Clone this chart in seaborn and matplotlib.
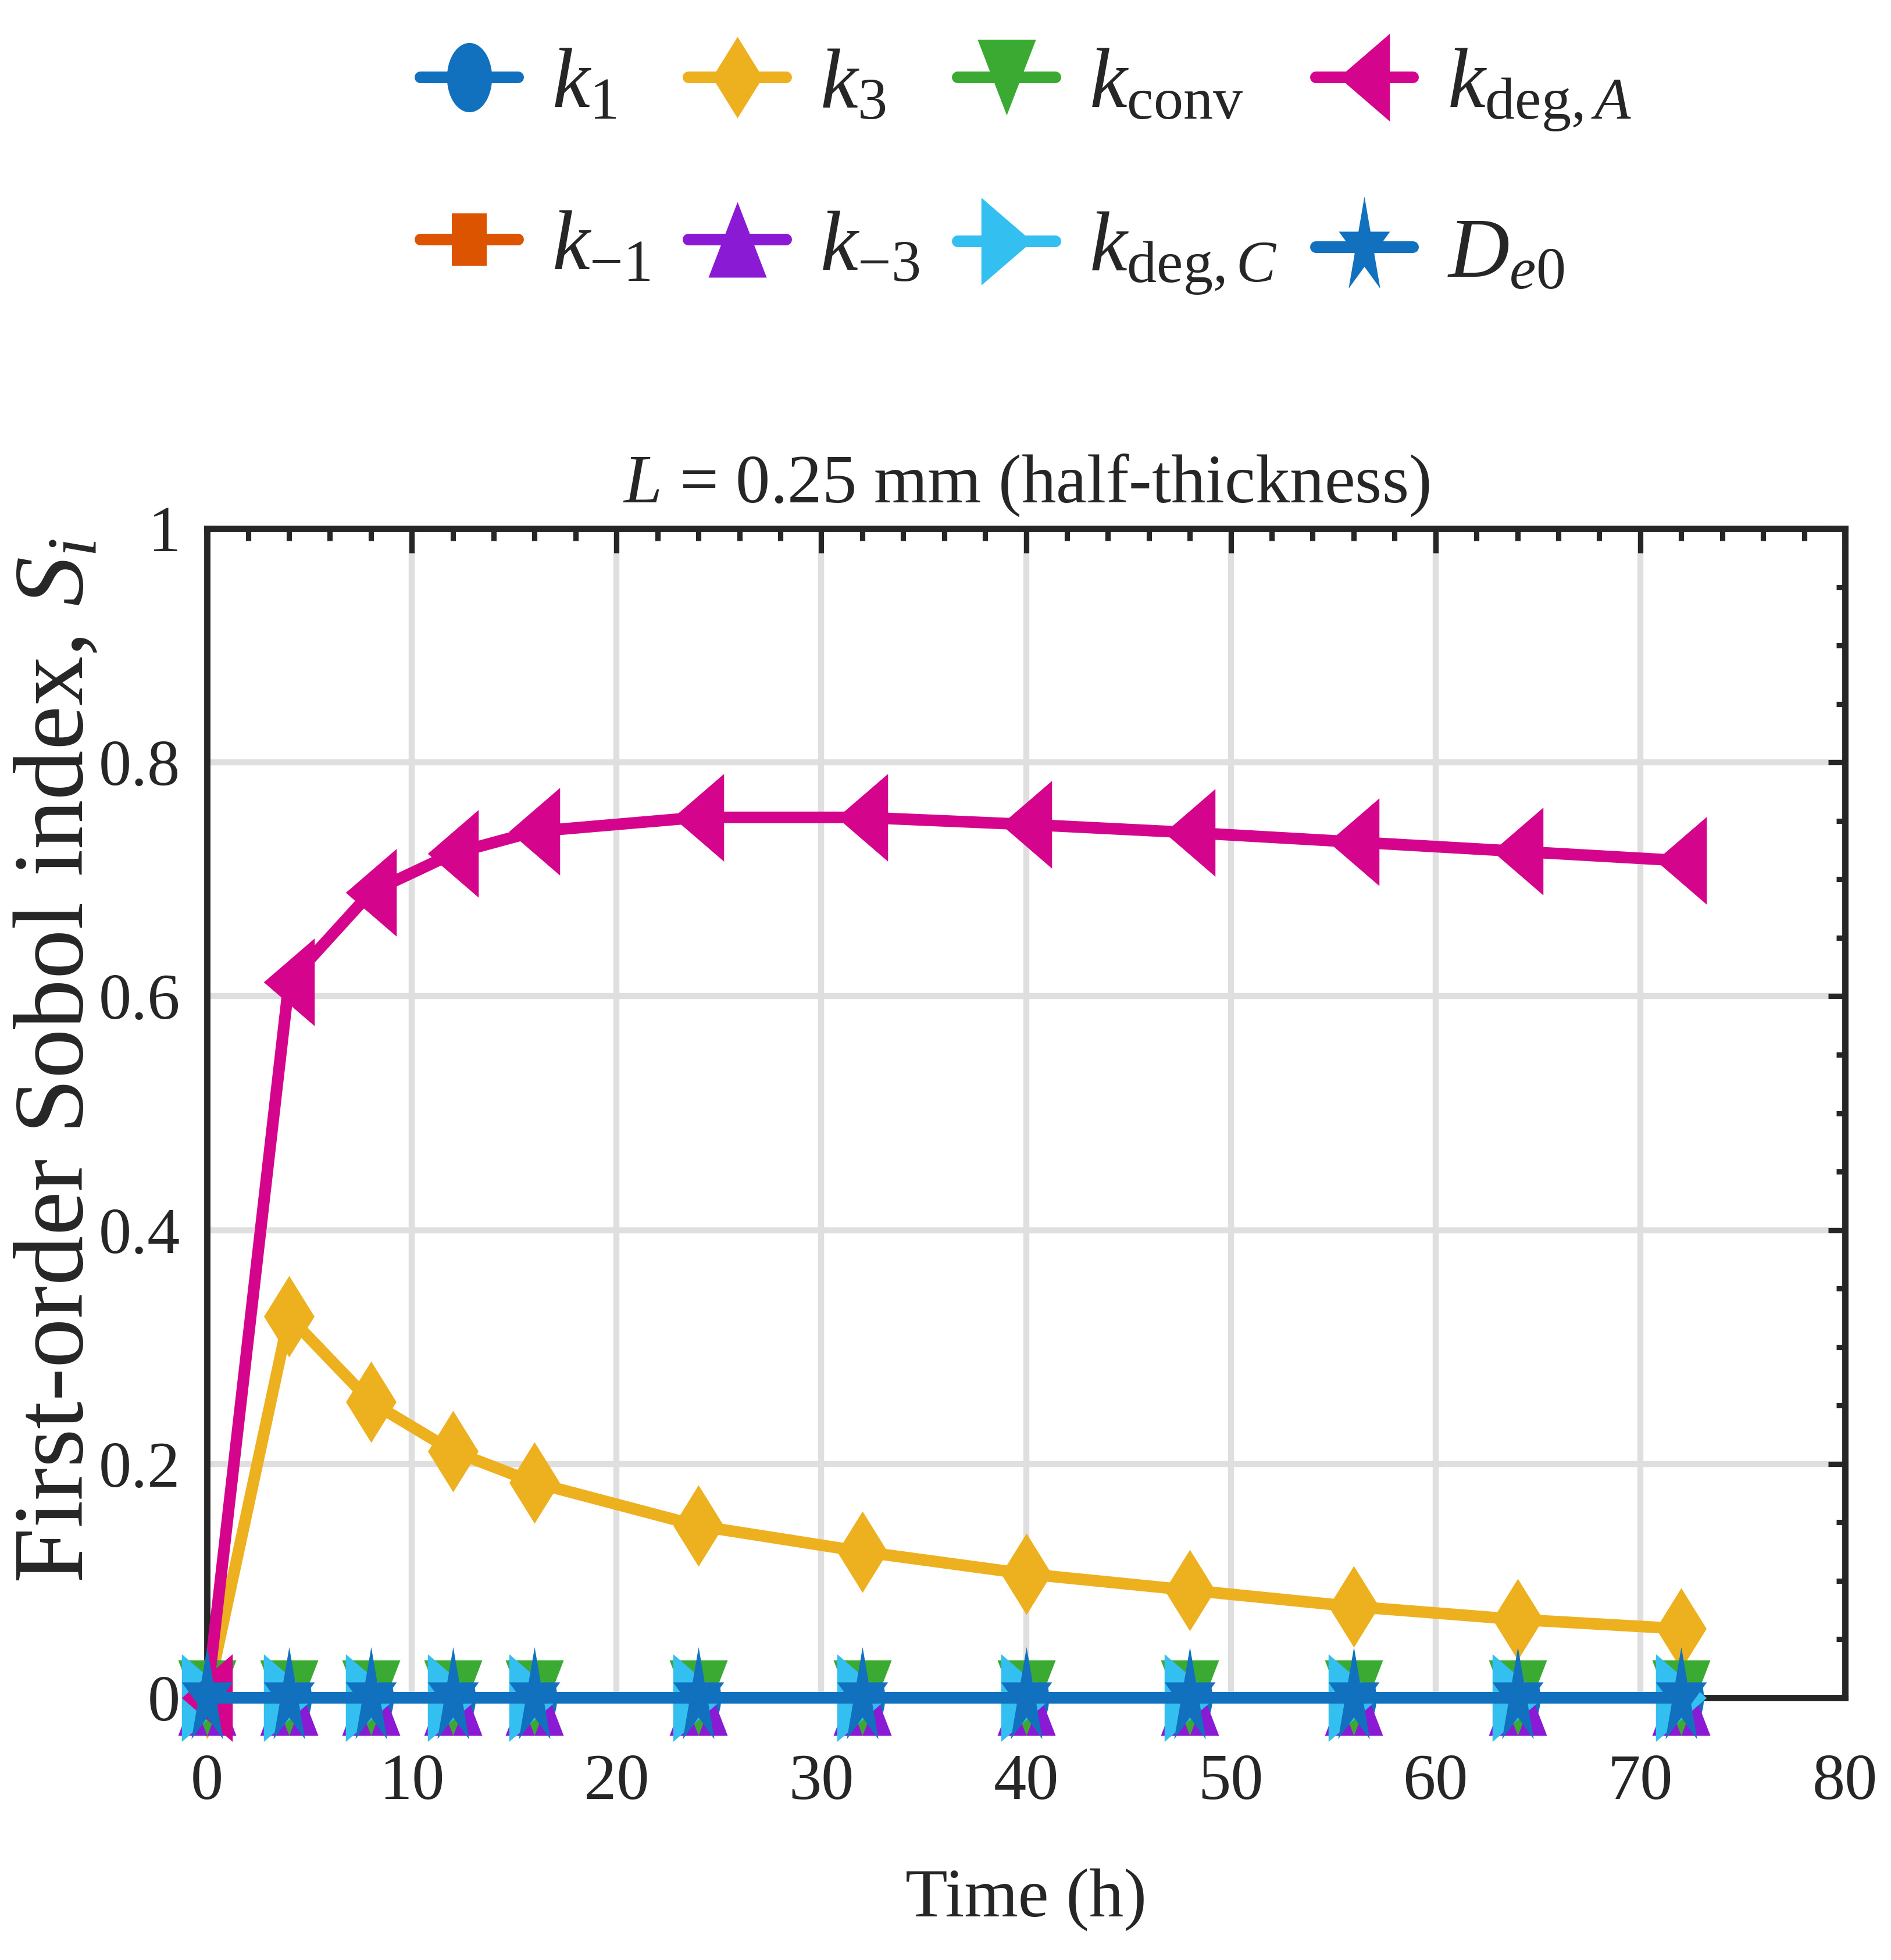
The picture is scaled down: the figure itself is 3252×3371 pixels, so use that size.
import numpy as np
import matplotlib
matplotlib.use("Agg")
import matplotlib.pyplot as plt
import seaborn as sns
from matplotlib.path import Path
from matplotlib.ticker import MultipleLocator, FixedLocator, FixedFormatter

# --- DATA ---
time_h = [0, 4, 8, 12, 16, 24, 32, 40, 48, 56, 64, 72]
s_k1 = [0, 0, 0, 0, 0, 0, 0, 0, 0, 0, 0, 0]
s_km1 = [0, 0, 0, 0, 0, 0, 0, 0, 0, 0, 0, 0]
s_k3 = [0, 0.326, 0.253, 0.211, 0.184, 0.147, 0.125, 0.106, 0.092, 0.078, 0.067, 0.059]
s_km3 = [0, 0, 0, 0, 0, 0, 0, 0, 0, 0, 0, 0]
s_kconv = [0, 0, 0, 0, 0, 0, 0, 0, 0, 0, 0, 0]
s_kdegC = [0, 0, 0, 0, 0, 0, 0, 0, 0, 0, 0, 0]
s_kdegA = [0, 0.612, 0.689, 0.722, 0.741, 0.753, 0.753, 0.747, 0.740, 0.732, 0.724, 0.716]
s_De0 = [0, 0, 0, 0, 0, 0, 0, 0, 0, 0, 0, 0]

param_labels = [r"$k_1$", r"$k_{-1}$", r"$k_3$", r"$k_{-3}$",
                r"$k_{\mathrm{conv}}$", r"$k_{\mathrm{deg},C}$",
                r"$k_{\mathrm{deg},A}$", r"$D_{e0}$"]
series = [s_k1, s_km1, s_k3, s_km3, s_kconv, s_kdegC, s_kdegA, s_De0]

x_ticks = [0, 10, 20, 30, 40, 50, 60, 70, 80]
x_ticklabels = ["0", "10", "20", "30", "40", "50", "60", "70", "80"]
y_ticks = [0, 0.2, 0.4, 0.6, 0.8, 1.0]
y_ticklabels = ["0", "0.2", "0.4", "0.6", "0.8", "1"]

# --- STYLE ---
colors = ["#1171BE", "#DD5400", "#EDB120", "#8A1AD4",
          "#3BAA32", "#33BFEF", "#D4048C", "#1171BE"]


def narrow(verts, sx):
    v = np.asarray(verts, dtype=float).copy()
    v[:, 0] *= sx
    return Path(np.vstack([v, v[:1]]), closed=True)


circ = Path.unit_circle()
circ = Path(circ.vertices * [0.65, 1.0], circ.codes)
star = Path.unit_regular_star(5, 0.381966)
star = Path(star.vertices * [0.528, 1.0], star.codes)

markers = [
    circ,
    narrow([(-1, -1), (1, -1), (1, 1), (-1, 1)], 0.66),
    narrow([(0, 1), (1, 0), (0, -1), (-1, 0)], 0.62),
    narrow([(0, 1), (-1, -1), (1, -1)], 0.77),
    narrow([(0, -1), (-1, 1), (1, 1)], 0.77),
    narrow([(1, 0), (-1, 1), (-1, -1)], 0.58),
    narrow([(-1, 0), (1, 1), (1, -1)], 0.58),
    star,
]
msizes = [28.6, 21.8, 33.6, 31.2, 31.2, 36.2, 36.2, 42.0]

sns.set_theme(style="white")
plt.rcParams["font.family"] = ["Liberation Serif", "DejaVu Serif"]
plt.rcParams["mathtext.fontset"] = "custom"
plt.rcParams["mathtext.rm"] = "Liberation Serif"
plt.rcParams["mathtext.it"] = "Liberation Serif:italic"
plt.rcParams["mathtext.bf"] = "Liberation Serif:bold"
plt.rcParams["text.color"] = "#262626"

fig = plt.figure(figsize=(3252 / 300, 3371 / 300), dpi=300)
ax = fig.add_axes([0.1095, 0.1338, 0.8662, 0.5965])

for i, vals in enumerate(series):
    sns.lineplot(x=time_h, y=vals, ax=ax, color=colors[i], linewidth=4.8,
                 marker=markers[i], markersize=msizes[i], markeredgewidth=0,
                 clip_on=False, zorder=3 + i * 0.01, legend=False)

for line, lab in zip(ax.lines, param_labels):
    line.set_label(lab)

ax.set_xlim(0, 80)
ax.set_ylim(0, 1)
ax.xaxis.set_major_locator(FixedLocator(x_ticks))
ax.xaxis.set_major_formatter(FixedFormatter(x_ticklabels))
ax.yaxis.set_major_locator(FixedLocator(y_ticks))
ax.yaxis.set_major_formatter(FixedFormatter(y_ticklabels))
ax.xaxis.set_minor_locator(MultipleLocator(2))
ax.yaxis.set_minor_locator(MultipleLocator(0.05))

ax.grid(True, which="major", color="#DFDFDF", linewidth=2.5)
ax.set_axisbelow(True)

for sp in ax.spines.values():
    sp.set_linewidth(2.6)
    sp.set_color("#262626")
    sp.set_zorder(2.5)

ax.tick_params(axis="both", which="both", direction="in", top=True, right=True,
               color="#262626", width=2.2, labelcolor="#262626")
ax.tick_params(axis="x", which="major", length=10, pad=23, labelsize=27)
ax.tick_params(axis="x", which="minor", length=5)
ax.tick_params(axis="y", which="major", length=7, pad=11, labelsize=27)
ax.tick_params(axis="y", which="minor", length=3.5)

ax.set_title(r"$L$ = 0.25 mm (half-thickness)", fontsize=28.5, pad=11, color="#262626")
ax.set_xlabel("Time (h)", fontsize=28.5, color="#262626")
ax.xaxis.set_label_coords(0.5, -0.146)
ax.set_ylabel(r"First-order Sobol index, $S_i$", fontsize=41, color="#262626")
ax.yaxis.set_label_coords(-0.063, 0.545)

fig.legend(ax.lines, param_labels, loc="center", bbox_to_anchor=(0.5426, 0.9125),
           ncol=4, frameon=False, fontsize=35, handlelength=1.15,
           handletextpad=0.4, columnspacing=0.45, labelspacing=1.0)

fig.savefig("out.png", dpi=300)
